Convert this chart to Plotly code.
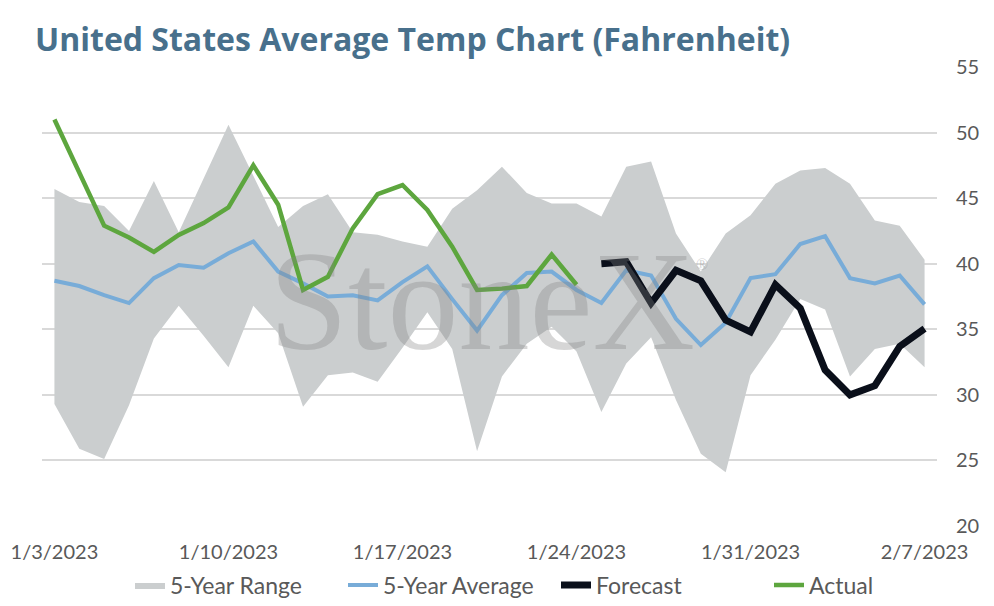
"""United States average temperature chart, rebuilt with Plotly."""

import pandas as pd
import plotly.graph_objects as go

# daily dates 1/3/2023 .. 2/7/2023
dates = pd.date_range("2023-01-03", "2023-02-07", freq="D")

range_high = [45.7, 44.7, 44.4, 42.5, 46.3, 42.4, 46.5, 50.6, 46.7, 42.8,
              44.4, 45.3, 42.4, 42.2, 41.7, 41.3, 44.2, 45.6, 47.4, 45.4,
              44.6, 44.6, 43.6, 47.4, 47.8, 42.3, 39.4, 42.3, 43.7, 46.1,
              47.1, 47.3, 46.1, 43.3, 42.9, 40.3]
range_low = [29.3, 25.9, 25.1, 29.2, 34.3, 36.8, 34.5, 32.1, 36.8, 34.7,
             29.1, 31.5, 31.7, 31.0, 33.6, 36.3, 33.5, 25.7, 31.4, 33.9,
             35.2, 33.3, 28.7, 32.4, 34.4, 29.6, 25.5, 24.1, 31.5, 34.2,
             37.3, 36.5, 31.4, 33.5, 33.9, 32.1]
avg_5yr = [38.7, 38.3, 37.6, 37.0, 38.9, 39.9, 39.7, 40.8, 41.7, 39.4,
           38.5, 37.5, 37.6, 37.2, 38.6, 39.8, 37.3, 34.9, 37.6, 39.3,
           39.4, 38.0, 37.0, 39.5, 39.1, 35.8, 33.8, 35.5, 38.9, 39.2,
           41.5, 42.1, 38.9, 38.5, 39.1, 36.9]
actual = [51.0, 47.0, 42.9, 42.0, 40.9, 42.2, 43.1, 44.3, 47.5, 44.5,
          38.0, 39.0, 42.7, 45.3, 46.0, 44.1, 41.3, 38.0, 38.1, 38.3,
          40.7, 38.4]
forecast = [40.0, 40.15, 37.0, 39.5, 38.7, 35.7, 34.8, 38.4, 36.6, 31.9,
            30.0, 30.7, 33.7, 35.05]
forecast_start = 22  # 1/25/2023

FONT = "Lato"
TEXT_GRAY = "#595959"
BAND = "#cbcecf"

fig = go.Figure()

# 5-year range band
fig.add_trace(go.Scatter(
    x=dates, y=range_low,
    mode="lines", line=dict(width=0, color=BAND),
    showlegend=False, hoverinfo="skip",
))
fig.add_trace(go.Scatter(
    x=dates, y=range_high,
    mode="lines", line=dict(width=0, color=BAND),
    fill="tonexty", fillcolor=BAND,
    name="5-Year Range",
))

fig.add_trace(go.Scatter(
    x=dates, y=avg_5yr,
    mode="lines", name="5-Year Average",
    line=dict(color="#78acd8", width=4),
))
fig.add_trace(go.Scatter(
    x=dates[forecast_start:], y=forecast,
    mode="lines", name="Forecast",
    line=dict(color="#0a0f1a", width=7),
))
fig.add_trace(go.Scatter(
    x=dates[:len(actual)], y=actual,
    mode="lines", name="Actual",
    line=dict(color="#5da63e", width=4.5),
))

# watermark
fig.add_annotation(
    text="StoneX", xref="paper", yref="paper", x=0.492, y=0.49,
    xanchor="center", yanchor="middle", showarrow=False,
    font=dict(family="Liberation Serif", size=142, color="rgba(130,130,130,0.33)"),
)
fig.add_annotation(
    text="®", xref="paper", yref="paper", x=0.737, y=0.57,
    xanchor="center", yanchor="middle", showarrow=False,
    font=dict(family="Liberation Serif", size=16, color="rgba(140,140,140,0.4)"),
)

# page body adds an 8px offset, so the figure is 8px smaller than the window
fig.update_layout(
    width=986,
    height=598,
    margin=dict(l=34, r=57, t=59, b=80, autoexpand=False),
    paper_bgcolor="white",
    plot_bgcolor="white",
    title=dict(
        text="United States Average Temp Chart (Fahrenheit)",
        x=27 / 986, xref="container", xanchor="left",
        y=1 - 32 / 598, yref="container", yanchor="middle",
        font=dict(family="Open Sans", size=32, color="#48708c", weight="bold"),
    ),
    font=dict(family=FONT, size=20, color=TEXT_GRAY),
    legend=dict(
        orientation="h",
        x=122 / 986, xref="container", xanchor="left",
        y=1 - 577 / 598, yref="container", yanchor="middle",
        traceorder="normal",
        entrywidth=168, entrywidthmode="pixels",
        font=dict(family=FONT, size=23, color=TEXT_GRAY),
    ),
    showlegend=True,
)

fig.update_xaxes(
    range=["2023-01-02 12:00", "2023-02-07 12:00"],
    tick0="2023-01-03", dtick=7 * 86400000,
    tickformat="%-m/%-d/%Y", automargin=False,
    showgrid=False, zeroline=False, showline=False,
    ticks="", ticklabelstandoff=12,
    tickfont=dict(family=FONT, size=20, color=TEXT_GRAY),
)
fig.update_yaxes(
    range=[20, 55], dtick=5, side="right", automargin=False,
    showgrid=True, gridcolor="#d9d9d9", gridwidth=1.5,
    zeroline=False, showline=False, ticks="",
    ticklabelstandoff=18,
    tickfont=dict(family=FONT, size=20, color=TEXT_GRAY),
)

fig.write_html("out.html")
